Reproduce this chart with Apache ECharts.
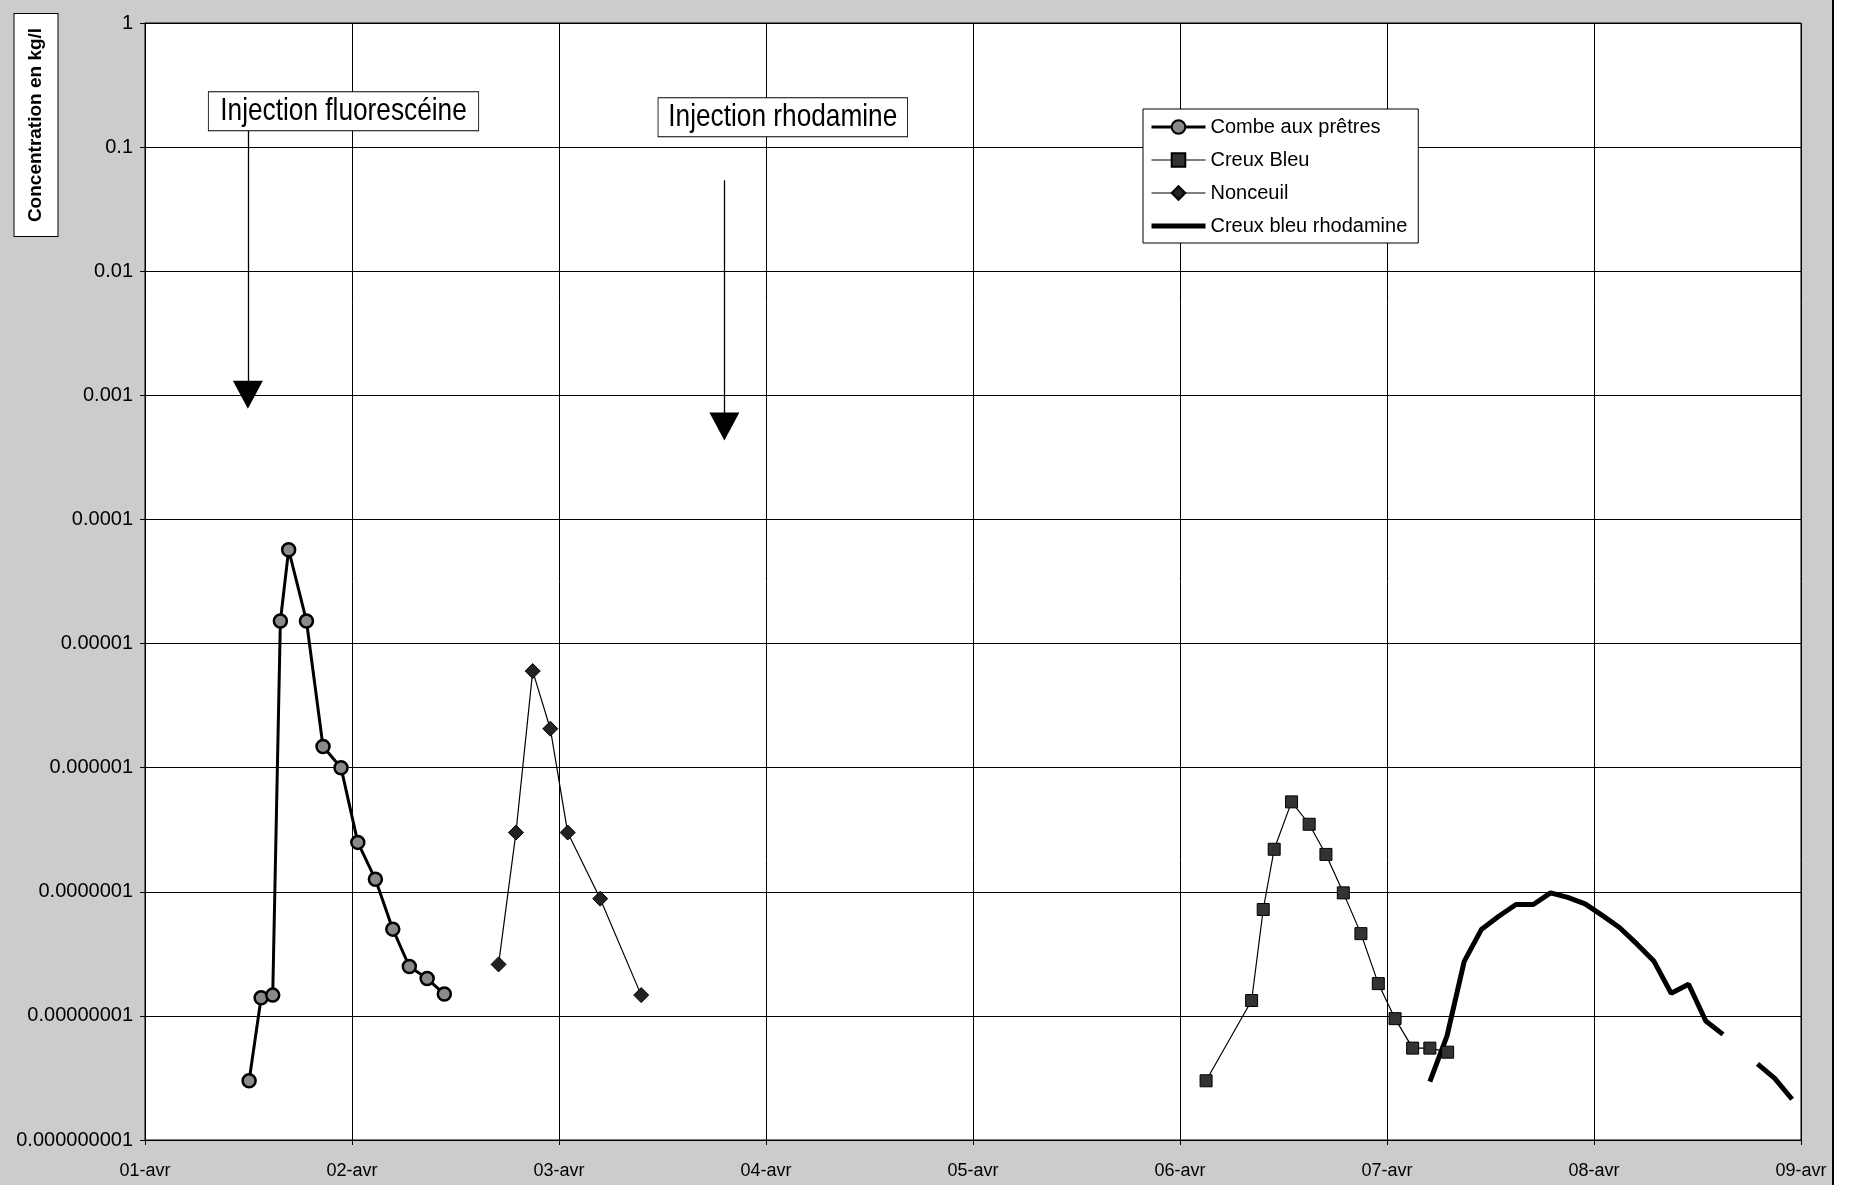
<!DOCTYPE html>
<html>
<head>
<meta charset="utf-8">
<script src="https://cdn.jsdelivr.net/npm/echarts@6/dist/echarts.min.js"></script>
<style>
html,body{margin:0;padding:0;background:#fff;}
#main{width:1857px;height:1185px;background:linear-gradient(to right,#cccccc 0,#cccccc 1832px,#000 1832px,#000 1834px,#fff 1834px);}
</style>
</head>
<body>
<div id="main"></div>
<script>
// ---- data (x = day of April, y = concentration kg/l) ----
const xTickDays = [1, 2, 3, 4, 5, 6, 7, 8, 9];
const yTickValues = [1, 0.1, 0.01, 0.001, 0.0001, 0.00001, 0.000001, 0.0000001, 0.00000001, 0.000000001];

const combeDays   = [1.503, 1.561, 1.617, 1.654, 1.694, 1.780, 1.860, 1.947, 2.028, 2.113, 2.197, 2.277, 2.363, 2.446];
const combeValues = [3.0e-9, 1.4e-8, 1.47e-8, 1.52e-5, 5.7e-5, 1.52e-5, 1.48e-6, 1.0e-6, 2.5e-7, 1.26e-7, 5.0e-8, 2.5e-8, 2.0e-8, 1.5e-8];

const nonceuilDays   = [2.708, 2.792, 2.873, 2.958, 3.042, 3.199, 3.397];
const nonceuilValues = [2.6e-8, 3.0e-7, 6.0e-6, 2.06e-6, 3.0e-7, 8.8e-8, 1.47e-8];

const creuxDays   = [6.126, 6.346, 6.402, 6.455, 6.539, 6.624, 6.705, 6.789, 6.874, 6.958, 7.039, 7.124, 7.207, 7.293];
const creuxValues = [3.0e-9, 1.33e-8, 7.2e-8, 2.2e-7, 5.3e-7, 3.5e-7, 2.0e-7, 9.8e-8, 4.6e-8, 1.82e-8, 9.5e-9, 5.5e-9, 5.5e-9, 5.1e-9];

const rhodDays   = [7.207, 7.290, 7.373, 7.457, 7.540, 7.623, 7.707, 7.790, 7.873, 7.957, 8.040, 8.123, 8.207, 8.290, 8.373, 8.457, 8.540, 8.623, 8.707, 8.790, 8.873, 8.957];
const rhodValues = [2.95e-9, 6.9e-9, 2.75e-8, 5.0e-8, 6.35e-8, 7.9e-8, 7.9e-8, 9.8e-8, 9.0e-8, 8.0e-8, 6.45e-8, 5.15e-8, 3.8e-8, 2.75e-8, 1.52e-8, 1.8e-8, 9.1e-9, 7.1e-9, null, 4.1e-9, 3.14e-9, 2.13e-9];

const seriesNames = ['Combe aux prêtres', 'Creux Bleu', 'Nonceuil', 'Creux bleu rhodamine'];
const injections = [
  {label: 'Injection fluorescéine', day: 1.497, top: 0.136, tip: 1.01e-3},
  {label: 'Injection rhodamine',   day: 3.799, top: 0.054, tip: 5.6e-4}
];

const pair = (xs, ys) => xs.map((x, i) => [x, ys[i]]);

const chart = echarts.init(document.getElementById('main'), null, {renderer: 'canvas'});
const FONT = 'Liberation Sans, Arial, sans-serif';

chart.setOption({
  backgroundColor: 'transparent',
  animation: false,
  grid: {left: 145, top: 23, width: 1656, height: 1117, show: true, backgroundColor: '#fff', borderColor: '#000', borderWidth: 1},
  xAxis: {
    type: 'value', min: xTickDays[0], max: xTickDays[xTickDays.length - 1], interval: 1,
    axisLine: {show: true, lineStyle: {color: '#000', width: 1}},
    axisTick: {show: true, length: 5, lineStyle: {color: '#000'}},
    splitLine: {show: true, lineStyle: {color: '#000', width: 1}},
    axisLabel: {color: '#000', fontFamily: FONT, fontSize: 18, margin: 22,
      formatter: v => (v < 10 ? '0' : '') + v + '-avr'}
  },
  yAxis: {
    type: 'log', logBase: 10, min: yTickValues[yTickValues.length - 1], max: yTickValues[0], interval: 1,
    axisLine: {show: true, lineStyle: {color: '#000', width: 1}},
    axisTick: {show: true, length: 5, lineStyle: {color: '#000'}},
    splitLine: {show: true, lineStyle: {color: '#000', width: 1}},
    minorTick: {show: false},
    axisLabel: {color: '#000', fontFamily: FONT, fontSize: 20, margin: 12,
      formatter: v => v >= 0.999 ? '1' : v.toFixed(Math.round(-Math.log10(v)))}
  },
  legend: {
    orient: 'vertical', left: 1143, top: 109,
    data: [
      {name: seriesNames[0], lineStyle: {width: 3}},
      {name: seriesNames[1], lineStyle: {width: 1.2}},
      {name: seriesNames[2], lineStyle: {width: 1.2}},
      {name: seriesNames[3], lineStyle: {width: 5}, itemStyle: {opacity: 0}}
    ],
    itemWidth: 54, itemHeight: 17, itemGap: 13, padding: [8, 11, 7, 6],
    backgroundColor: '#fff', borderColor: '#000', borderWidth: 1, borderRadius: 0,
    textStyle: {color: '#000', fontFamily: FONT, fontSize: 20, lineHeight: 20},
    selectedMode: false
  },
  series: [
    {name: seriesNames[0], type: 'line', data: pair(combeDays, combeValues),
     symbol: 'circle', symbolSize: 13, showAllSymbol: true,
     lineStyle: {color: '#000', width: 3},
     itemStyle: {color: '#8a8a8a', borderColor: '#000', borderWidth: 2.5}},
    {name: seriesNames[1], type: 'line', data: pair(creuxDays, creuxValues),
     symbol: 'rect', symbolSize: 12, showAllSymbol: true,
     lineStyle: {color: '#000', width: 1.2},
     itemStyle: {color: '#333', borderColor: '#000', borderWidth: 1}},
    {name: seriesNames[2], type: 'line', data: pair(nonceuilDays, nonceuilValues),
     symbol: 'diamond', symbolSize: 15, showAllSymbol: true,
     lineStyle: {color: '#000', width: 1.2},
     itemStyle: {color: '#222', borderColor: '#000', borderWidth: 1}},
    {name: seriesNames[3], type: 'line', data: pair(rhodDays, rhodValues),
     symbol: 'none', connectNulls: false,
     lineStyle: {color: '#000', width: 5},
     itemStyle: {color: '#000'}},
    {name: 'injections', type: 'line', data: [], silent: true,
     markLine: {
       silent: true, symbol: ['none', 'triangle'], symbolSize: [30, 28],
       label: {show: false},
       lineStyle: {color: '#000', width: 1.3, type: 'solid'},
       emphasis: {disabled: true},
       data: injections.map(j => [{coord: [j.day, j.top]}, {coord: [j.day, j.tip]}])
     }}
  ],
  graphic: [
    {type: 'text', x: 36, y: 125, rotation: Math.PI / 2, z: 10,
     style: {text: 'Concentration en kg/l', font: 'bold 19px ' + FONT, fill: '#000',
       align: 'center', verticalAlign: 'middle', backgroundColor: '#fff',
       borderColor: '#000', borderWidth: 1, padding: [12, 14, 12, 14]}},
    {type: 'text', x: 343.5, y: 111.3, z: 10, scaleX: 0.82,
     style: {text: injections[0].label, font: '32px ' + FONT, fill: '#000',
       align: 'center', verticalAlign: 'middle', backgroundColor: '#fff',
       borderColor: '#000', borderWidth: 1, padding: [3, 14, 3, 14], lineHeight: 32}},
    {type: 'text', x: 782.8, y: 117.3, z: 10, scaleX: 0.82,
     style: {text: injections[1].label, font: '32px ' + FONT, fill: '#000',
       align: 'center', verticalAlign: 'middle', backgroundColor: '#fff',
       borderColor: '#000', borderWidth: 1, padding: [3, 12, 3, 12], lineHeight: 32}}
  ]
});
</script>
</body>
</html>
